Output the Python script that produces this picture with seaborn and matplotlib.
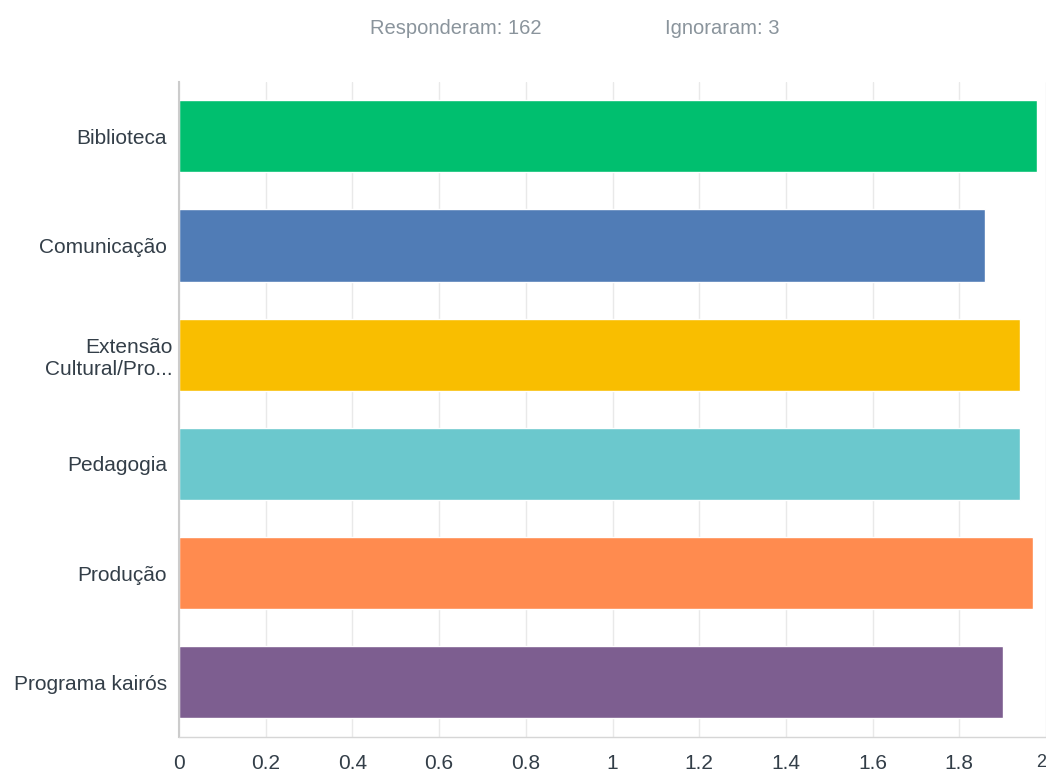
import matplotlib
matplotlib.use("Agg")
import matplotlib.pyplot as plt
import matplotlib.transforms as mtransforms
import seaborn as sns
import pandas as pd

# Survey results (average score per sector)
categories = ["Biblioteca", "Comunicação", "Extensão\nCultural/Pro...",
              "Pedagogia", "Produção", "Programa kairós"]
values = [1.98, 1.86, 1.94, 1.94, 1.97, 1.90]
bar_colors = ["#00BF6F", "#507CB6", "#F9BE00", "#6BC8CD", "#FF8B4F", "#7D5E90"]
x_ticks = [0, 0.2, 0.4, 0.6, 0.8, 1, 1.2, 1.4, 1.6, 1.8, 2]
x_tick_labels = ["0", "0.2", "0.4", "0.6", "0.8", "1", "1.2", "1.4", "1.6", "1.8", "2"]
answered = 162
skipped = 3

sns.set_theme(style="white")
plt.rcParams["font.family"] = ["Liberation Sans", "DejaVu Sans"]

df = pd.DataFrame({"setor": categories, "media": values})

fig = plt.figure(figsize=(10.46, 7.73), dpi=100)
ax = fig.add_axes([179 / 1046, 36 / 773, 1 - 179 / 1046, (737 - 81.7) / 773])

sns.barplot(data=df, x="media", y="setor", hue="setor", palette=bar_colors,
            orient="h", width=0.66, legend=False, saturation=1, ax=ax, zorder=2)

ax.set_xlim(0, 2)
ax.set_ylim(len(categories) - 0.5, -0.5)
ax.set_xticks(x_ticks)
ax.set_xticklabels(x_tick_labels)
ax.set_xlabel("")
ax.set_ylabel("")

ax.grid(axis="x", color="#e9e9e9", linewidth=1, zorder=0)
ax.set_axisbelow(True)
for side in ["top", "right"]:
    ax.spines[side].set_visible(False)
ax.spines["left"].set_color("#cccccc")
ax.spines["left"].set_linewidth(1.5)
ax.spines["bottom"].set_color("#d6d6d6")
ax.spines["bottom"].set_linewidth(1)

ax.tick_params(axis="x", length=0, pad=12, labelsize=15, labelcolor="#333e48")
ax.tick_params(axis="y", length=0, pad=8.6, labelsize=15, labelcolor="#333e48")

# last x label is pushed inside the canvas
xlabels = ax.get_xticklabels()
xlabels[-1].set_horizontalalignment("right")
xlabels[-1].set_fontsize(13)

# two-line label sits a bit closer to the axis than the others
for lbl in ax.get_yticklabels():
    lbl.set_multialignment("right")
    if lbl.get_text().startswith("Extens"):
        lbl.set_transform(lbl.get_transform() +
                          mtransforms.ScaledTranslation(6 / 100, 0, fig.dpi_scale_trans))

fig.text(370 / 1046, 1 - 28 / 773, f"Responderam: {answered}", fontsize=14.5,
         color="#8a949c", ha="left", va="center")
fig.text(665 / 1046, 1 - 28 / 773, f"Ignoraram: {skipped}", fontsize=14.5,
         color="#8a949c", ha="left", va="center")

fig.savefig("out.png", dpi=100)
